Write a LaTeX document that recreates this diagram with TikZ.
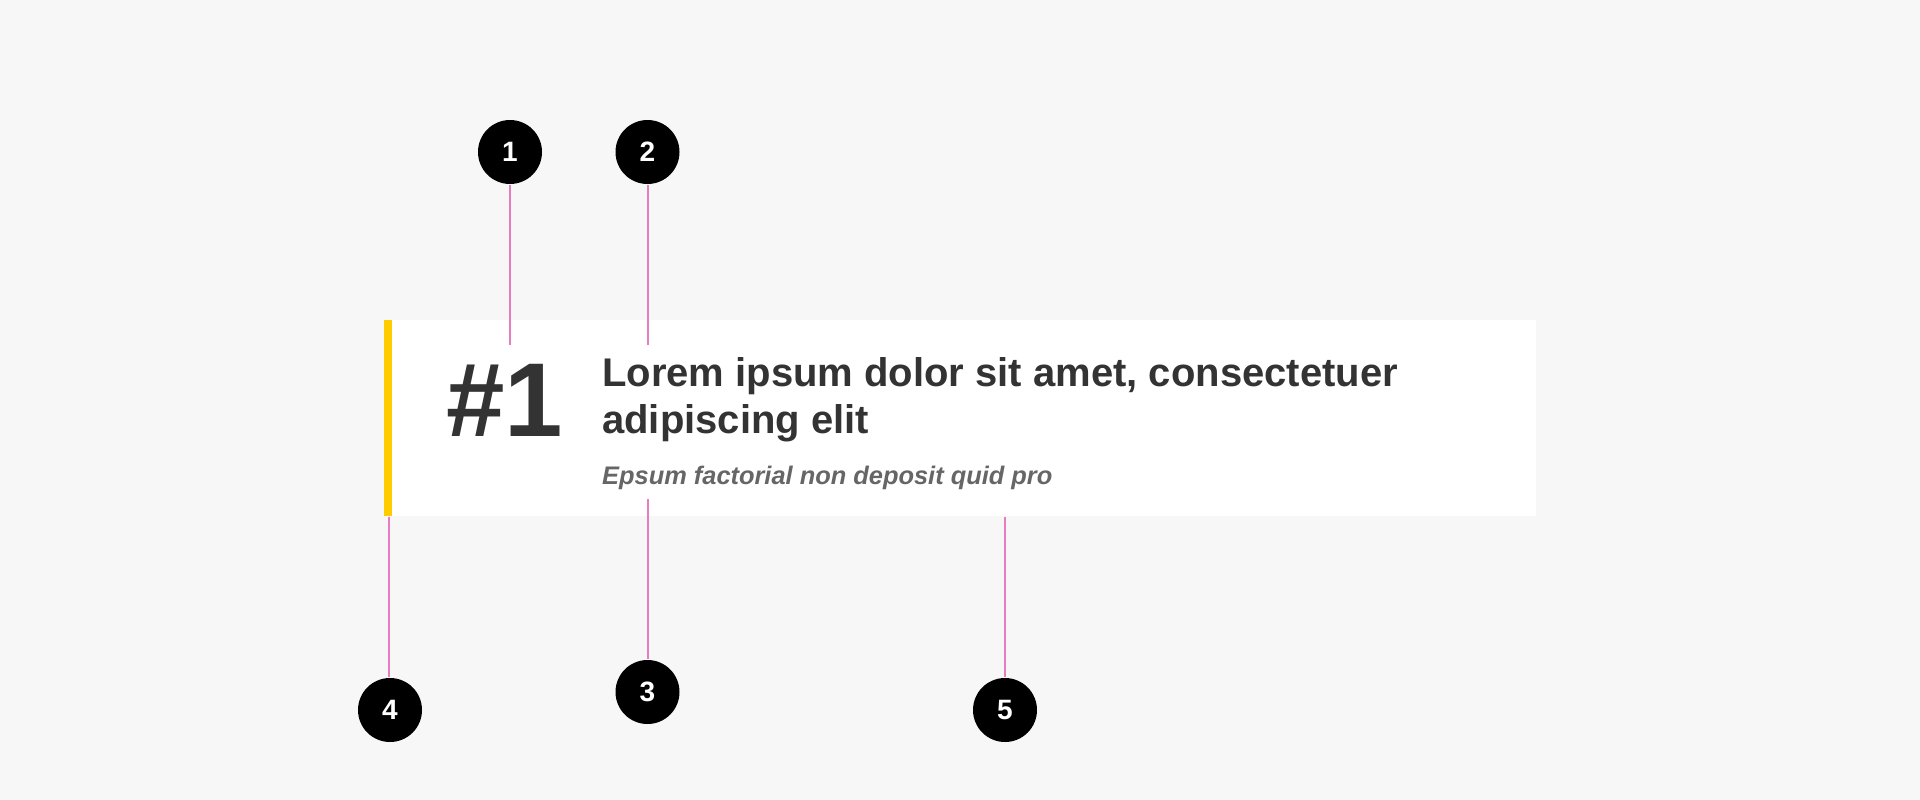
\documentclass[tikz,border=0pt]{standalone}
\usepackage{fontspec}
\setmainfont{Liberation Sans}
\definecolor{pagebg}{HTML}{F7F7F7}
\definecolor{ink}{HTML}{333333}
\definecolor{subink}{HTML}{666666}
\definecolor{bar}{HTML}{FFCC00}
\definecolor{leader}{HTML}{E87CC0}
\tikzset{
  marker/.style={circle, fill=black, text=white, minimum size=64pt, inner sep=0pt, outer sep=1pt, font=\fontsize{28}{28}\selectfont\bfseries},
  leadline/.style={draw=leader, line width=2pt},
  cardtext/.style={anchor=base west, inner sep=0pt, align=left}
}
\begin{document}
\begin{tikzpicture}[x=1pt,y=-1pt]
\fill[pagebg] (0,0) rectangle (1920,800);
\useasboundingbox (0,0) rectangle (1920,800);
% card
\fill[white] (384,320) rectangle (1536,516);
\fill[bar] (384,320) rectangle (392,516);
\node[cardtext, text=ink, font=\fontsize{105}{105}\selectfont\bfseries] (rank) at (446,436) {\#1};
% base anchor sits on the last line
\node[cardtext, text=ink, font=\fontsize{40}{46.5}\selectfont\bfseries] (title) at (602,433) {Lorem ipsum dolor sit amet, consectetuer\\adipiscing elit};
\node[cardtext, text=subink, font=\fontsize{25.4}{25.4}\selectfont\bfseries\itshape] (sub) at (602,484.5) {Epsum factorial non deposit quid pro};
% markers
\node[marker] (m1) at (510,152) {1};
\node[marker] (m2) at (647.5,152) {2};
\node[marker] (m3) at (647.5,692) {3};
\node[marker] (m4) at (390,710) {4};
\node[marker] (m5) at (1005,710) {5};
% leader lines
\coordinate (e1) at (510,345);
\coordinate (e2) at (647.5,345);
\coordinate (e3) at (647.5,499);
\coordinate (e4) at (389,517);
\coordinate (e5) at (1005,517);
\draw[leadline] (m1) -- (e1);
\draw[leadline] (m2) -- (e2);
\draw[leadline] (e3) -- (m3);
\draw[leadline] (e4) -- (e4 |- m4.north);
\draw[leadline] (e5) -- (m5);
\end{tikzpicture}
\end{document}
